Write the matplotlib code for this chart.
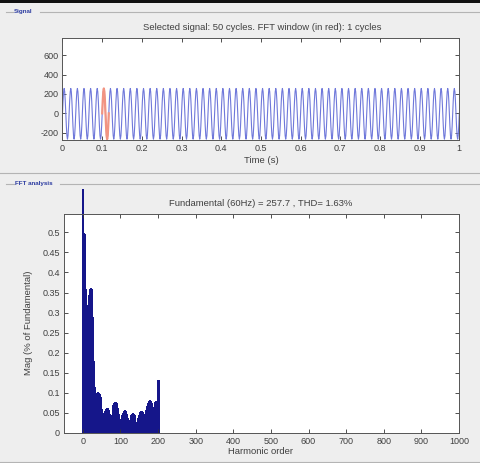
import numpy as np
import matplotlib
matplotlib.use('Agg')
import matplotlib.pyplot as plt
from matplotlib.lines import Line2D
from matplotlib.patches import Rectangle


W, H = 481, 463

signal_cycle = [0, 128, 222, 257, 223, 130, 0, -133, -230, -266, -231, -134]
n_cycles = 60
window_start_cycle = 6
window_cycles = 1

time_ticks = [0, 0.1, 0.2, 0.3, 0.4, 0.5, 0.6, 0.7, 0.8, 0.9, 1]
time_labels = ['0', '0.1', '0.2', '0.3', '0.4', '0.5', '0.6', '0.7', '0.8', '0.9', '1']
signal_yticks = [-200, 0, 200, 400, 600]

# harmonic spectrum, every 2nd order from 0 to 200
harmonic_order = np.arange(0, 201, 2)
harmonic_mag = [
    0.608, 0.495, 0.36, 0.30, 0.19, 0.12, 0.10, 0.24, 0.32, 0.345,
    0.358, 0.352, 0.29, 0.18, 0.115, 0.07, 0.045, 0.05, 0.075, 0.092,
    0.099, 0.097, 0.09, 0.075, 0.06, 0.05, 0.038, 0.03, 0.032, 0.042,
    0.054, 0.06, 0.062, 0.058, 0.048, 0.036, 0.027, 0.024, 0.03, 0.045,
    0.06, 0.07, 0.075, 0.076, 0.072, 0.062, 0.048, 0.035, 0.025, 0.019,
    0.018, 0.024, 0.034, 0.044, 0.051, 0.055, 0.054, 0.048, 0.038, 0.027,
    0.019, 0.016, 0.022, 0.032, 0.041, 0.046, 0.048, 0.045, 0.038, 0.028,
    0.02, 0.017, 0.02, 0.028, 0.037, 0.045, 0.05, 0.053, 0.052, 0.047,
    0.04, 0.033, 0.03, 0.035, 0.046, 0.058, 0.068, 0.075, 0.079, 0.08,
    0.076, 0.066, 0.055, 0.047, 0.045, 0.055, 0.068, 0.078, 0.077, 0.072,
    0.132,
]
fft_xticks = list(range(0, 1001, 100))
fft_yticks = [0, 0.05, 0.1, 0.15, 0.2, 0.25, 0.3, 0.35, 0.4, 0.45, 0.5]
fft_ylabels = ['0', '0.05', '0.1', '0.15', '0.2', '0.25', '0.3', '0.35', '0.4', '0.45', '0.5']

BG = '#eeeeee'
TXT = '#404040'
BAR = '#15168a'
FS = 6.8
plt.rcParams['font.family'] = ['Liberation Sans', 'DejaVu Sans']
plt.rcParams['axes.unicode_minus'] = False


def fx(x):
    return x / W


def fy(y):
    return 1 - y / H


def style_axes(ax):
    ax.tick_params(direction='in', top=True, right=True, length=3, width=0.6,
                   labelsize=6.5, labelcolor=TXT, color='#333333', pad=3)
    for s in ax.spines.values():
        s.set_color('#555555')
        s.set_linewidth(0.7)


fig = plt.figure(figsize=(W / 100, H / 100), dpi=100, facecolor=BG)

# window decorations: top bar and panel frames
fig.add_artist(Rectangle((0, fy(2.5)), 1, 2.5 / H, transform=fig.transFigure,
                         color='#111111', lw=0))
for (x0, x1, y) in [(6, 13, 11.5), (40, 481, 11.5), (6, 14, 184), (60, 481, 184),
                    (0, 481, 172.5), (0, 481, 461.5)]:
    fig.add_artist(Line2D([fx(x0), fx(x1)], [fy(y), fy(y)], transform=fig.transFigure,
                          color='#b4b4b4', lw=0.8))
fig.text(fx(14), fy(11.5), 'Signal', fontsize=4.5, color='#2a3aa0',
         fontweight='bold', va='center', ha='left')
fig.text(fx(15), fy(184), 'FFT analysis', fontsize=4.5, color='#2a3aa0',
         fontweight='bold', va='center', ha='left')

# --- signal panel ---
signal = np.append(np.tile(signal_cycle, n_cycles), signal_cycle[0])
t = np.linspace(0, 1, len(signal))
spc = len(signal_cycle)
w0 = window_start_cycle * spc
w1 = w0 + window_cycles * spc + 1

ax1 = fig.add_axes([fx(62.5), fy(140), fx(459.3 - 62.5), (140 - 38.3) / H])
ax1.plot(t, signal, color='#6f78da', lw=0.8)
ax1.plot(t[w0:w1], signal[w0:w1], color='#f29482', lw=1.6)
ax1.set_xlim(0, 1)
ax1.set_ylim(-275, 775)
ax1.set_xticks(time_ticks)
ax1.set_xticklabels(time_labels)
ax1.set_yticks(signal_yticks)
style_axes(ax1)
fig.text(fx(262), fy(28), 'Selected signal: 50 cycles. FFT window (in red): 1 cycles',
         fontsize=FS, color=TXT, ha='center', va='center')
fig.text(fx(261), fy(161), 'Time (s)', fontsize=FS, color=TXT, ha='center', va='center')

# --- FFT panel ---
ax2 = fig.add_axes([fx(64), fy(433), fx(459 - 64), (433 - 213.5) / H])
bars = ax2.bar(harmonic_order, harmonic_mag, width=2, color=BAR,
               edgecolor=BAR, lw=1.0, antialiased=False)
bars[0].set_clip_on(False)
bars[0].set_linewidth(0.6)
ax2.set_xlim(-50, 1000)
ax2.set_ylim(0, 0.547)
ax2.set_xticks(fft_xticks)
ax2.set_yticks(fft_yticks)
ax2.set_yticklabels(fft_ylabels)
style_axes(ax2)
fig.text(fx(261), fy(203), 'Fundamental (60Hz) = 257.7 , THD= 1.63%',
         fontsize=FS, color=TXT, ha='center', va='center')
fig.text(fx(261), fy(452), 'Harmonic order', fontsize=FS, color=TXT,
         ha='center', va='center')
fig.text(fx(29), fy(323), 'Mag (% of Fundamental)', fontsize=FS, color=TXT,
         ha='center', va='center', rotation=90)

fig.savefig('out.png', dpi=100, facecolor=BG)
